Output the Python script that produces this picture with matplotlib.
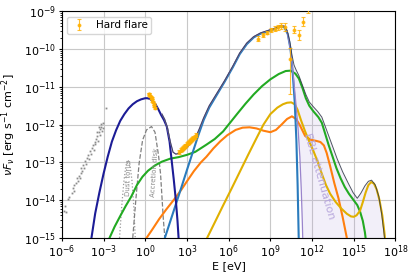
import matplotlib
matplotlib.use("Agg")
import matplotlib.pyplot as plt
import numpy as np

# all values, stored as log10(E / eV) and log10(nuFnu)

# synchrotron (navy)
sync_logE = [-4.0, -3.87, -3.6, -3.3, -3.0, -2.7, -2.4, -2.1, -1.8, -1.5, -1.2, -0.9, -0.6,
             -0.3, 0.0, 0.15, 0.35, 0.55, 0.75, 0.95, 1.15, 1.35, 1.55, 1.75, 1.9, 2.05,
             2.2, 2.32, 2.45]
sync_logF = [-15.35, -15.0, -14.35, -13.8, -13.3, -12.85, -12.45, -12.15, -11.9, -11.72,
             -11.57, -11.46, -11.38, -11.33, -11.3, -11.3, -11.32, -11.38, -11.47, -11.6,
             -11.75, -11.88, -12.05, -12.45, -12.95, -13.45, -14.0, -14.55, -15.3]

# SSC (blue)
ssc_logE = [1.3, 1.41, 1.8, 2.2, 2.6, 3.0, 3.4, 3.8, 4.2, 4.6, 5.1, 5.7, 6.3, 6.8, 7.3, 7.8,
            8.3, 8.8, 9.3, 9.7, 10.0, 10.25, 10.45, 10.6, 10.75, 10.87, 10.96, 11.05]
ssc_logF = [-15.12, -15.0, -14.56, -14.11, -13.66, -13.2, -12.75, -12.3, -11.88, -11.55,
            -11.24, -10.87, -10.48, -10.13, -9.87, -9.69, -9.59, -9.53, -9.47, -9.4, -9.42,
            -9.6, -10.0, -10.6, -11.4, -12.4, -13.6, -15.2]

# green component
green_logE = [-2.7, -2.57, -2.2, -1.8, -1.4, -1.0, -0.6, -0.2, 0.2, 0.7, 1.2, 1.8, 2.4, 3.0,
              3.6, 4.4, 5.0, 5.6, 6.1, 6.6, 7.2, 7.8, 8.4, 9.0, 9.6, 10.1, 10.45, 10.8,
              11.05, 11.3, 11.55, 11.8, 12.1, 12.45, 12.7, 12.95, 13.2, 13.45, 13.75, 14.05,
              14.35, 14.65, 14.95, 15.25, 15.45, 15.65, 15.8, 15.95]
green_logF = [-15.12, -15.0, -14.7, -14.42, -14.15, -13.9, -13.6, -13.38, -13.22, -13.08,
              -12.98, -12.9, -12.86, -12.8, -12.72, -12.53, -12.38, -12.18, -11.95, -11.72,
              -11.45, -11.2, -10.98, -10.8, -10.66, -10.58, -10.57, -10.65, -10.78, -11.02,
              -11.3, -11.5, -11.65, -11.8, -11.95, -12.25, -12.55, -12.82, -13.15, -13.42,
              -13.65, -13.83, -13.98, -14.13, -14.3, -14.55, -14.85, -15.3]

# orange component
orange_logE = [0.0, 0.5, 1.0, 1.5, 2.1, 2.6, 3.0, 3.5, 4.0, 4.4, 4.9, 5.4, 5.9, 6.5, 7.0,
               7.5, 8.0, 8.5, 9.0, 9.4, 9.8, 10.2, 10.55, 10.85, 11.1, 11.5, 11.9, 12.3,
               12.6, 12.85, 13.05, 13.3, 13.6, 13.9, 14.2, 14.5, 14.6]
orange_logF = [-15.05, -14.78, -14.5, -14.25, -13.97, -13.72, -13.5, -13.23, -13.0, -12.85,
               -12.63, -12.44, -12.28, -12.14, -12.08, -12.07, -12.1, -12.16, -12.2, -12.14,
               -12.0, -11.85, -11.78, -11.85, -12.0, -12.3, -12.4, -12.43, -12.46, -12.55,
               -12.75, -13.1, -13.55, -13.95, -14.45, -15.0, -15.2]

# yellow component
yellow_logE = [4.3, 4.45, 5.0, 5.6, 6.2, 6.8, 7.4, 8.0, 8.5, 9.0, 9.5, 9.9, 10.2, 10.5,
               10.75, 10.95, 11.2, 11.5, 11.8, 12.1, 12.4, 12.7, 13.0, 13.3, 13.7, 14.1,
               14.5, 14.8, 15.0, 15.2, 15.45, 15.65, 15.85, 16.05, 16.25, 16.45, 16.65,
               16.85, 17.05, 17.2, 17.35]
yellow_logF = [-15.11, -15.0, -14.59, -14.14, -13.7, -13.25, -12.8, -12.36, -12.0, -11.72,
               -11.55, -11.46, -11.42, -11.41, -11.46, -11.6, -11.88, -12.18, -12.45, -12.7,
               -12.98, -13.3, -13.6, -13.83, -14.05, -14.22, -14.36, -14.43, -14.44, -14.4,
               -14.28, -14.05, -13.8, -13.6, -13.52, -13.56, -13.72, -14.0, -14.4, -14.85,
               -15.4]

# total (unabsorbed)
total_logE = [1.2, 1.4, 1.6, 1.8, 2.0, 2.2, 2.45, 2.7, 3.0, 3.3, 3.6, 3.9, 4.2, 4.6, 5.1,
              5.7, 6.3, 6.8, 7.3, 7.8, 8.3, 8.8, 9.3, 9.7, 10.0, 10.2, 10.4, 10.55, 10.7,
              10.85, 11.05, 11.3, 11.55, 11.8, 12.1, 12.4, 12.7, 13.0, 13.4, 13.8, 14.2,
              14.6, 14.95, 15.25, 15.5, 15.8, 16.05, 16.28, 16.55, 16.8, 17.0, 17.15, 17.3]
total_logF = [-11.72, -11.86, -12.09, -12.45, -12.73, -12.78, -12.76, -12.7, -12.6, -12.48,
              -12.36, -12.1, -11.82, -11.5, -11.2, -10.84, -10.45, -10.1, -9.84, -9.67,
              -9.57, -9.51, -9.45, -9.38, -9.39, -9.5, -9.8, -10.15, -10.42, -10.55, -10.7,
              -10.95, -11.2, -11.4, -11.53, -11.65, -11.8, -12.1, -12.5, -12.9, -13.25,
              -13.55, -13.8, -13.95, -13.82, -13.62, -13.5, -13.47, -13.6, -13.9, -14.35,
              -14.8, -15.3]

# EBL-absorbed total, where it leaves the unabsorbed one
absorbed_logE = [10.2, 10.4, 10.55, 10.7, 10.85, 11.0, 11.12, 11.22, 11.3, 11.36]
absorbed_logF = [-9.52, -9.9, -10.35, -10.9, -11.5, -12.15, -12.85, -13.7, -14.6, -15.5]

# thermal components
torus_logE = [-1.85, -1.7, -1.55, -1.4, -1.25, -1.1, -0.95, -0.82, -0.72]
torus_logF = [-15.0, -14.2, -13.55, -13.1, -12.93, -13.05, -13.5, -14.2, -15.0]
disk_logE = [-0.9, -0.68, -0.44, -0.19, 0.09, 0.45, 0.7, 0.95, 1.1, 1.3, 1.41]
disk_logF = [-15.0, -14.0, -13.02, -12.41, -12.14, -12.05, -12.2, -12.8, -13.3, -14.5, -15.0]

# archival low-energy data (grey)
arch_logE = [-5.82, -5.78, -5.72, -5.55, -5.48, -5.30, -5.22, -5.15, -5.10, -4.98, -4.92,
             -4.85, -4.78, -4.72, -4.65, -4.60, -4.52, -4.45, -4.40, -4.32, -4.25, -4.18,
             -4.12, -4.05, -3.98, -3.92, -3.85, -3.78, -3.72, -3.65, -3.60, -3.52, -3.45,
             -3.40, -3.35, -3.28, -3.22, -3.15, -3.10, -3.05, -3.02, -3.18, -3.30, -3.50,
             -2.85]
arch_logF = [-14.28, -14.15, -14.30, -13.98, -13.92, -13.80, -13.68, -13.75, -13.60, -13.55,
             -13.42, -13.50, -13.35, -13.40, -13.28, -13.15, -13.22, -13.08, -13.15, -12.95,
             -13.05, -12.88, -12.80, -12.92, -12.70, -12.78, -12.62, -12.55, -12.68, -12.45,
             -12.52, -12.38, -12.30, -12.42, -12.20, -12.28, -12.12, -12.05, -12.18, -11.95,
             -12.08, -11.98, -12.05, -12.20, -11.55]

# hard flare data
flare_logE = [0.25, 0.3, 0.35, 0.4, 0.45, 0.5, 0.55, 0.6, 0.66, 0.72,
              2.45, 2.55, 2.62, 2.7, 2.78, 2.85, 2.92, 3.0, 3.08, 3.15, 3.22, 3.3, 3.38,
              3.45, 3.55, 3.65,
              8.12, 8.45, 8.75, 9.05, 9.3, 9.55, 9.8, 10.08, 10.43,
              10.71, 11.05, 11.38, 11.72]
flare_logF = [-11.18, -11.2, -11.24, -11.28, -11.3, -11.36, -11.4, -11.45, -11.5, -11.56,
              -12.72, -12.68, -12.64, -12.62, -12.6, -12.56, -12.55, -12.5, -12.48, -12.45,
              -12.44, -12.4, -12.38, -12.36, -12.32, -12.28,
              -9.72, -9.62, -9.56, -9.5, -9.46, -9.42, -9.4, -9.42, -10.25,
              -9.49, -9.62, -9.27, -8.95]
flare_errlo = [0.03] * 10 + [0.05] * 16 + [0.06, 0.05, 0.05, 0.05, 0.06, 0.07, 0.08, 0.1, 0.95,
                                           0.09, 0.13, 0.13, 0.1]
flare_errhi = [0.03] * 10 + [0.05] * 16 + [0.06, 0.05, 0.05, 0.05, 0.06, 0.07, 0.08, 0.1, 0.28,
                                           0.09, 0.13, 0.13, 0.1]

xticks = [-6, -3, 0, 3, 6, 9, 12, 15, 18]


def lin(a):
    return 10.0 ** np.asarray(a)


fig = plt.figure(figsize=(4.15, 2.77), dpi=100)
ax = fig.add_axes([0.149, 0.141, 0.804, 0.818])
ax.set_xscale("log")
ax.set_yscale("log")
ax.set_axisbelow(True)
ax.grid(True, which="major", color="#c8c8c8", lw=0.8)

# EBL shaded region
tot_e = np.array(total_logE)
tot_f = np.array(total_logF)
m = tot_e >= 10.0
poly_e = np.concatenate([tot_e[m], [17.3, 11.36], np.array(absorbed_logE)[::-1], [10.0]])
poly_f = np.concatenate([tot_f[m], [-15.5, -15.5], np.array(absorbed_logF)[::-1], [-9.39]])
ax.fill(lin(poly_e), lin(poly_f), color="#b39ddb", alpha=0.16, lw=0, zorder=1)

ax.plot(lin(arch_logE), lin(arch_logF), "s", color="#8c8c8c", ms=1.3, mew=0, zorder=2)
ax.plot(lin(torus_logE), lin(torus_logF), ":", color="#999999", lw=0.9, zorder=2)
ax.plot(lin(disk_logE), lin(disk_logF), "--", color="#808080", lw=0.9, zorder=2)

ax.plot(lin(green_logE), lin(green_logF), color="#22aa22", lw=1.5, zorder=3)
ax.plot(lin(orange_logE), lin(orange_logF), color="#ff7f0e", lw=1.5, zorder=3)
ax.plot(lin(yellow_logE), lin(yellow_logF), color="#e0b000", lw=1.5, zorder=3)
ax.plot(lin(ssc_logE), lin(ssc_logF), color="#2a7bbd", lw=1.5, zorder=3)
ax.plot(lin(sync_logE), lin(sync_logF), color="#1c1c96", lw=1.5, zorder=3)

abs_e = np.concatenate([tot_e[tot_e <= 10.0], absorbed_logE])
abs_f = np.concatenate([tot_f[tot_e <= 10.0], absorbed_logF])
ax.plot(lin(abs_e), lin(abs_f), color="#9a84cc", lw=0.9, zorder=4)
ax.plot(lin(total_logE), lin(total_logF), color="#303848", lw=0.7, alpha=0.85, zorder=5)

fF = lin(flare_logF)
yerr = [fF - lin(np.array(flare_logF) - np.array(flare_errlo)),
        lin(np.array(flare_logF) + np.array(flare_errhi)) - fF]
ax.errorbar(lin(flare_logE), fF, yerr=yerr, fmt="o", ms=1.8, color="#ffb000", alpha=0.8,
            elinewidth=0.8, capsize=1.2, capthick=0.8, label="Hard flare", zorder=6)

ax.text(lin(-1.2), lin(-13.41), "Dust torus", rotation=88, fontsize=5, color="#8c8c8c",
        ha="center", va="center")
ax.text(lin(0.71), lin(-13.25), "Accretion disk", rotation=86, fontsize=5, color="#8c8c8c",
        ha="center", va="center")
ax.text(lin(12.5), lin(-13.36), "EBL attenuation", rotation=-74, fontsize=8, color="#b8a8dc",
        ha="center", va="center", rotation_mode="anchor")

ax.set_xlim(1e-6, 1e18)
ax.set_ylim(1e-15, 1e-9)
ax.set_xticks(lin(xticks))
ax.tick_params(which="major", labelsize=8, length=2.5, pad=1.5)
ax.tick_params(which="minor", length=1.5)
ax.set_xlabel("E [eV]", fontsize=8)
ax.set_ylabel(r"$\nu F_\nu$ [erg s$^{-1}$ cm$^{-2}$]", fontsize=8)
ax.xaxis.set_label_coords(0.5, -0.1)
ax.yaxis.set_label_coords(-0.13, 0.5)
ax.legend(loc="upper left", fontsize=7.5, borderpad=0.35, handlelength=1.6)

fig.savefig("out.png", dpi=100)
